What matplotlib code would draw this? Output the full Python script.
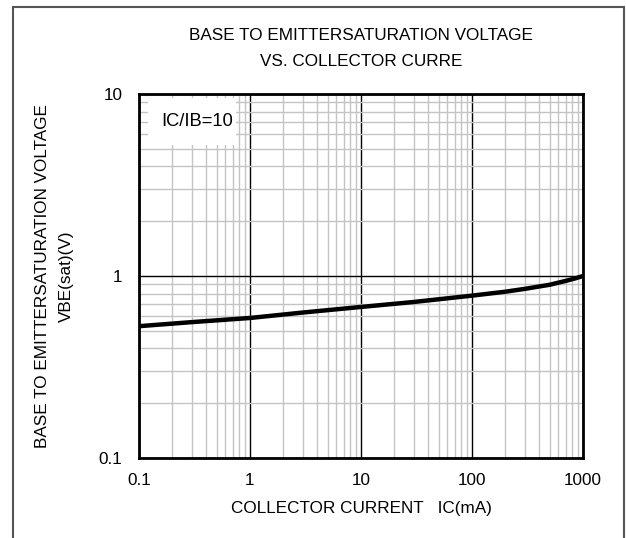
import numpy as np
import matplotlib as mpl
mpl.use('Agg')
from matplotlib import pyplot as plt
from matplotlib.patches import Rectangle

# ---------- data ----------
icCurrent = [0.1, 0.3, 1, 3, 10, 30, 50, 100, 200, 300, 500, 700, 850, 1000]   # mA
vbeSat    = [0.53, 0.558, 0.588, 0.63, 0.676, 0.72, 0.745, 0.78, 0.82, 0.85,
             0.895, 0.94, 0.97, 1.0]                                             # V

xTicks = [0.1, 1, 10, 100, 1000]
xTickLabels = ['0.1', '1', '10', '100', '1000']
yTicks = [0.1, 1, 10]
yTickLabels = ['0.1', '1', '10']

plt.rcParams['font.family'] = ['Liberation Sans', 'DejaVu Sans']
fs = 12.3

fig = plt.figure(figsize=(6.26, 5.38), dpi=100)
W, H = 626.0, 538.0
ax = fig.add_axes([139/W, 1 - 458/H, (583-139)/W, (458-94)/H])

ax.set_xscale('log')
ax.set_yscale('log')
ax.set_xlim(0.1, 1000)
ax.set_ylim(0.1, 10)

ax.grid(True, which='minor', color='#c4c4c4', lw=1.0)
ax.grid(True, which='major', color='black', lw=1.0)
ax.set_axisbelow(True)

ax.plot(icCurrent, vbeSat, color='black', lw=3.2, solid_capstyle='butt',
        solid_joinstyle='round', zorder=5)

ax.set_xticks(xTicks)
ax.set_xticklabels(xTickLabels)
ax.set_yticks(yTicks)
ax.set_yticklabels(yTickLabels)
ax.tick_params(which='both', length=0, labelsize=fs)
ax.tick_params(axis='x', pad=11)
ax.tick_params(axis='y', pad=12)

for s in ax.spines.values():
    s.set_linewidth(2)

# white box behind the condition label
ax.add_patch(Rectangle((148/W, 1 - 145/H), 88/W, 47/H, transform=fig.transFigure,
                       facecolor='white', edgecolor='none', zorder=2))
fig.text(197/W, 1 - 121/H, 'IC/IB=10', fontsize=13.2, ha='center', va='center',
         zorder=6)

ax.set_xlabel('COLLECTOR CURRENT   IC(mA)', fontsize=fs, labelpad=9)

# two-line y label and title placed in figure coords
fig.text(43/W, 1 - 276/H, 'BASE TO EMITTERSATURATION VOLTAGE', rotation=90,
         ha='center', va='center', fontsize=fs)
fig.text(66/W, 1 - 276/H, 'VBE(sat)(V)', rotation=90,
         ha='center', va='center', fontsize=fs)
fig.text(361/W, 1 - 35/H, 'BASE TO EMITTERSATURATION VOLTAGE',
         ha='center', va='center', fontsize=fs)
fig.text(361/W, 1 - 61/H, 'VS. COLLECTOR CURRE',
         ha='center', va='center', fontsize=fs)

# outer frame
fig.patches.append(Rectangle((13/W, -0.05), (624-13)/W, 1.05 - 7/H,
                             transform=fig.transFigure, fill=False,
                             edgecolor='#555555', lw=1.5))

plt.savefig('out.png', dpi=100)
